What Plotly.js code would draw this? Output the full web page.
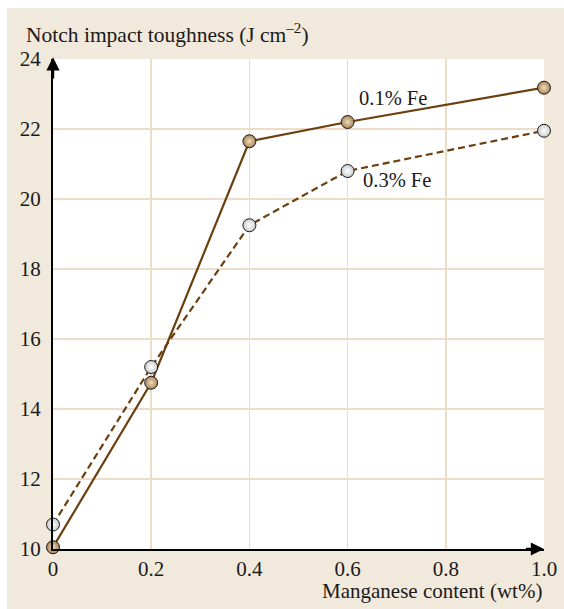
<!DOCTYPE html>
<html>
<head>
<meta charset="utf-8">
<script src="https://cdn.plot.ly/plotly-3.0.1.min.js"></script>
<style>
  html, body { margin: 0; padding: 0; background: #ffffff; }
  #chart { width: 564px; height: 609px; }
</style>
</head>
<body>
<div id="chart"></div>
<script>
// Manganese content (wt%) and notch impact toughness (J cm^-2)
const manganese = [0, 0.2, 0.4, 0.6, 1.0];
const toughnessFe01 = [10.05, 14.75, 21.65, 22.2, 23.18];
const toughnessFe03 = [10.7, 15.2, 19.25, 20.8, 21.95];
const seriesNames = ['0.1% Fe', '0.3% Fe'];
const xTickVals = [0, 0.2, 0.4, 0.6, 0.8, 1.0];
const xTickText = ['0', '0.2', '0.4', '0.6', '0.8', '1.0'];
const yTickVals = [10, 12, 14, 16, 18, 20, 22, 24];

const lineColor = '#6b3f0e';
const serif = 'Liberation Serif, Times New Roman, serif';
const textColor = '#1a1a1a';

const traces = [
  {
    x: manganese, y: toughnessFe01, name: seriesNames[0],
    type: 'scatter', mode: 'lines+markers', cliponaxis: false,
    line: { color: lineColor, width: 2.2 },
    marker: {
      size: 13, color: '#a98354',
      gradient: { type: 'radial', color: '#efdcc0' },
      line: { color: '#1a1a1a', width: 1 }
    }
  },
  {
    x: manganese, y: toughnessFe03, name: seriesNames[1],
    type: 'scatter', mode: 'lines+markers', cliponaxis: false,
    line: { color: lineColor, width: 2.2, dash: '7px,4px' },
    marker: {
      size: 13, color: '#c9cbcc',
      gradient: { type: 'radial', color: '#ffffff' },
      line: { color: '#1a1a1a', width: 1 }
    }
  }
];

const layout = {
  width: 564, height: 609,
  margin: { l: 53, r: 20, t: 59, b: 60 },
  paper_bgcolor: '#f2e9dd',
  plot_bgcolor: '#ffffff',
  showlegend: false,
  font: { family: serif, size: 21, color: textColor },
  xaxis: {
    range: [0, 1], tickvals: xTickVals, ticktext: xTickText,
    showgrid: true, gridcolor: '#eddcc6', gridwidth: 1.5,
    zeroline: false, showline: true, linecolor: '#000000', linewidth: 2,
    ticks: '', tickfont: { family: serif, size: 21, color: textColor }
  },
  yaxis: {
    range: [10, 24], tickvals: yTickVals,
    showgrid: true, gridcolor: '#eddcc6', gridwidth: 1.5,
    zeroline: false, showline: true, linecolor: '#000000', linewidth: 2,
    ticks: 'outside', ticklen: 6, tickcolor: 'rgba(0,0,0,0)',
    tickfont: { family: serif, size: 21, color: textColor }
  },
  shapes: [
    // white strips framing the beige panel
    { type: 'rect', xref: 'paper', yref: 'paper', x0: -0.12, x1: -0.0937, y0: -0.2, y1: 1.2,
      fillcolor: '#ffffff', line: { width: 0 } },
    { type: 'rect', xref: 'paper', yref: 'paper', x0: -0.12, x1: 1.1, y0: 1.1041, y1: 1.2,
      fillcolor: '#ffffff', line: { width: 0 } }
  ],
  annotations: [
    // axis arrows
    { x: 0, y: 24.05, ax: 0, ay: 23.4, xref: 'x', yref: 'y', axref: 'x', ayref: 'y',
      text: '', showarrow: true, arrowhead: 2, arrowsize: 1.1, arrowwidth: 2.4, arrowcolor: '#000000' },
    { x: 1.0, y: 10, ax: 0.96, ay: 10, xref: 'x', yref: 'y', axref: 'x', ayref: 'y',
      text: '', showarrow: true, arrowhead: 2, arrowsize: 1.1, arrowwidth: 2.4, arrowcolor: '#000000' },
    // axis titles
    { xref: 'paper', yref: 'paper', x: -0.059, y: 1.053, xanchor: 'left', yanchor: 'middle',
      text: 'Notch impact toughness (J cm<sup>–2</sup>)', showarrow: false,
      font: { family: serif, size: 21.5, color: textColor } },
    { xref: 'paper', yref: 'paper', x: 0.999, y: -0.086, xanchor: 'right', yanchor: 'middle',
      text: 'Manganese content (wt%)', showarrow: false,
      font: { family: serif, size: 21, color: textColor } },
    // series labels
    { xref: 'x', yref: 'y', x: 0.619, y: 22.89, xanchor: 'left', yanchor: 'middle',
      text: seriesNames[0], showarrow: false,
      font: { family: serif, size: 20.5, color: textColor } },
    { xref: 'x', yref: 'y', x: 0.627, y: 20.54, xanchor: 'left', yanchor: 'middle',
      text: seriesNames[1], showarrow: false,
      font: { family: serif, size: 20.5, color: textColor } }
  ]
};

Plotly.newPlot('chart', traces, layout, { displayModeBar: false, staticPlot: true });
</script>
</body>
</html>
